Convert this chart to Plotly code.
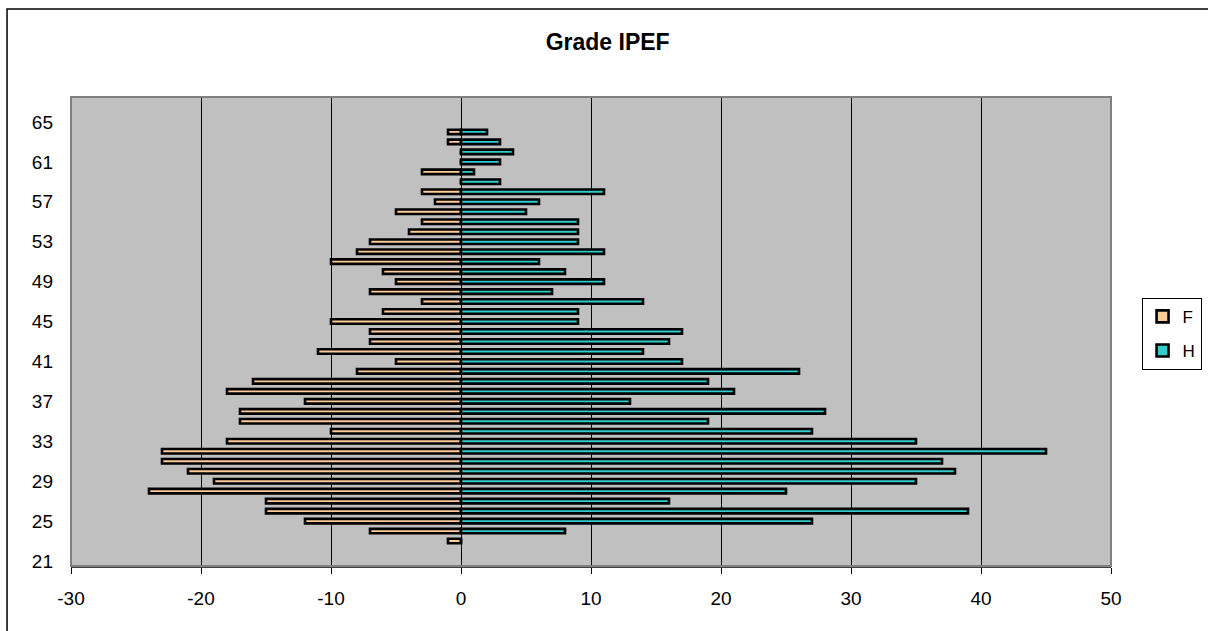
import plotly.graph_objects as go

# ages (categories) shown on the vertical axis
ages = list(range(21, 68))

# femmes (negative side) and hommes, by age; None = no bar
f_values = [None, None, -1, -7, -12, -15, -15, -24, -19, -21,
            -23, -23, -18, -10, -17, -17, -12, -18, -16, -8,
            -5, -11, -7, -7, -10, -6, -3, -7, -5, -6,
            -10, -8, -7, -4, -3, -5, -2, -3, 0, -3,
            0, 0, -1, -1, None, None, None]
h_values = [None, None, 0, 8, 27, 39, 16, 25, 35, 38,
            37, 45, 35, 27, 19, 28, 13, 21, 19, 26,
            17, 14, 16, 17, 9, 9, 14, 7, 11, 8,
            6, 11, 9, 9, 9, 5, 6, 11, 3, 1,
            3, 4, 3, 2, None, None, None]

# x tick labels, written with a plain hyphen like the original
x_ticks = [-30, -20, -10, 0, 10, 20, 30, 40, 50]

font = "Arial, Liberation Sans, sans-serif"

fig = go.Figure()
fig.add_trace(go.Bar(
    x=f_values, y=ages, orientation="h", name="F", legendgroup="F",
    width=0.45, marker=dict(color="#FFCC99", line=dict(color="black", width=2.6)),
))
fig.add_trace(go.Bar(
    x=h_values, y=ages, orientation="h", name="H", legendgroup="H",
    width=0.45, marker=dict(color="#33CCCC", line=dict(color="black", width=2.6)),
))

fig.update_layout(
    width=1208, height=631,
    margin=dict(l=71, r=97, t=97, b=65),
    paper_bgcolor="white", plot_bgcolor="#C0C0C0",
    barmode="overlay",
    font=dict(family=font, size=19, color="black"),
    title=dict(text="<b>Grade IPEF</b>", x=0.503, xref="container", xanchor="center",
               y=0.933, yref="container", yanchor="middle",
               font=dict(family=font, size=23, color="black")),
    legend=dict(xref="container", yref="container", x=0.945, y=0.528,
                xanchor="left", yanchor="top",
                bordercolor="black", borderwidth=1, bgcolor="white",
                font=dict(family=font, size=17), tracegroupgap=9,
                traceorder="grouped"),
    xaxis=dict(range=[-30, 50], tickmode="array", tickvals=x_ticks,
               ticktext=[str(v) for v in x_ticks], automargin=False,
               showgrid=True, gridcolor="black", gridwidth=1, zeroline=False,
               ticks="outside", ticklen=6, tickcolor="black",
               showline=True, linecolor="#404040", linewidth=2,
               ticklabelstandoff=8),
    yaxis=dict(range=[20.5, 67.5], tickmode="linear", tick0=21, dtick=4,
               showgrid=False, zeroline=False, ticks="", showline=False,
               ticklabelstandoff=17, automargin=False),
    yaxis2=dict(range=[20.5, 67.5], overlaying="y", anchor="free", position=0.375,
                side="left", tickmode="linear", tick0=20.5, dtick=1,
                ticks="outside", ticklen=5, tickcolor="#333333",
                showticklabels=False, showline=True, linecolor="#333333",
                linewidth=1, showgrid=False, zeroline=False, automargin=False),
)

# plot-area border and outer chart frame
fig.add_shape(type="rect", xref="x domain", yref="y domain", x0=0, x1=1, y0=0, y1=1,
              line=dict(color="#808080", width=2), layer="above")
fig.add_shape(type="rect", xref="paper", yref="paper", x0=-0.0615, x1=1.1, y0=-0.16, y1=1.1876,
              line=dict(color="black", width=1.5))

fig.write_html("out.html", config={"displayModeBar": False},
               post_script="document.body.style.margin='0';")
